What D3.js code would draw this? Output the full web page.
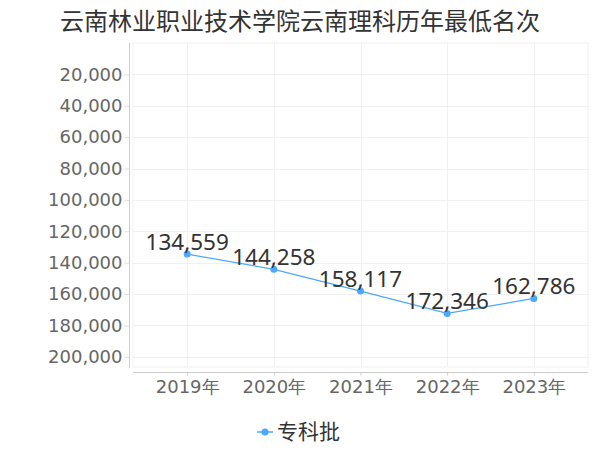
<!DOCTYPE html>
<html><head><meta charset="utf-8">
<script src="https://cdn.jsdelivr.net/npm/d3@7"></script>
<style>body{margin:0;background:#fff}svg{display:block}</style>
</head><body>
<svg id="c" width="600" height="450"></svg>
<script>
const title = "云南林业职业技术学院云南理科历年最低名次";
const categories = ["2019年","2020年","2021年","2022年","2023年"];
const seriesName = "专科批";
const values = [134559,144258,158117,172346,162786];
const yTicks = [20000,40000,60000,80000,100000,120000,140000,160000,180000,200000];

(function(){
const svg = d3.select("#c");
const pL = 133, pR = 588, pT = 43, pB = 367;
const color = "#4aa8ff";
const font = "'DejaVu Sans', sans-serif";

const y = d3.scaleLinear().domain([0, 206500]).range([pT, pB]);
const x = d3.scalePoint().domain(categories).range([pL, pR]).padding(0.625);

svg.append("text").attr("x", 300).attr("y", 30).attr("text-anchor","middle")
  .attr("font-family", "'Noto Sans CJK SC', sans-serif").attr("font-size", 24).attr("fill","#333").text(title);

// grid
const g = svg.append("g");
g.append("rect").attr("x", pL).attr("y", pT).attr("width", pR-pL).attr("height", pB-pT)
  .attr("fill","none").attr("stroke","#f0f0f0");
g.selectAll(".hg").data(yTicks).join("line").attr("x1", pL).attr("x2", pR)
  .attr("y1", d=>Math.round(y(d))+0.5).attr("y2", d=>Math.round(y(d))+0.5).attr("stroke","#f0f0f0");
g.selectAll(".vg").data(categories).join("line").attr("y1", pT).attr("y2", pB)
  .attr("x1", d=>Math.round(x(d))+0.5).attr("x2", d=>Math.round(x(d))+0.5).attr("stroke","#f0f0f0");

// y axis
const ya = svg.append("g").attr("transform","translate(129.5,0)")
  .call(d3.axisLeft(y).tickValues(yTicks).tickFormat(d3.format(",")).tickSize(5).tickPadding(2).tickSizeOuter(0));
ya.select(".domain").attr("stroke","#ccc").attr("d", `M0,${pT}V${pB+1}`);
ya.selectAll(".tick line").attr("stroke","#ddd");
ya.selectAll(".tick text").attr("font-family", font).attr("font-size", 18).attr("fill","#666");

// x axis
const xa = svg.append("g").attr("transform","translate(0,372.5)")
  .call(d3.axisBottom(x).tickSize(3).tickPadding(5).tickSizeOuter(0));
xa.select(".domain").attr("stroke","#ccc").attr("d", `M${pL},0H${pR}`);
xa.selectAll(".tick line").attr("stroke","#ccc");
xa.selectAll(".tick text").attr("font-family", font).attr("font-size", 18).attr("fill","#666");

// line
const data = categories.map((c,i)=>({c, v: values[i]}));
svg.append("path").datum(data).attr("fill","none").attr("stroke", color).attr("stroke-width",1.2)
  .attr("d", d3.line().x(d=>x(d.c)).y(d=>y(d.v)));
svg.selectAll(".pt").data(data).join("circle").attr("cx", d=>x(d.c)).attr("cy", d=>y(d.v)).attr("r",3.5).attr("fill", color);
svg.selectAll(".lb").data(data).join("text").attr("x", d=>x(d.c)).attr("y", d=>y(d.v)-4)
  .attr("text-anchor","middle").attr("font-family", "'Noto Sans', sans-serif").attr("font-size", 22.5).attr("fill","#333")
  .text(d=>d3.format(",")(d.v));

// legend
const lg = svg.append("g");
lg.append("line").attr("x1",257).attr("x2",273).attr("y1",432).attr("y2",432).attr("stroke",color).attr("stroke-width",1.5);
lg.append("circle").attr("cx",265).attr("cy",432).attr("r",3.5).attr("fill",color);
lg.append("text").attr("x",277).attr("y",432).attr("dy","0.35em").attr("font-family","'Noto Sans CJK SC', sans-serif")
  .attr("font-size",21).attr("fill","#333").text(seriesName);
})();
</script>
</body></html>
